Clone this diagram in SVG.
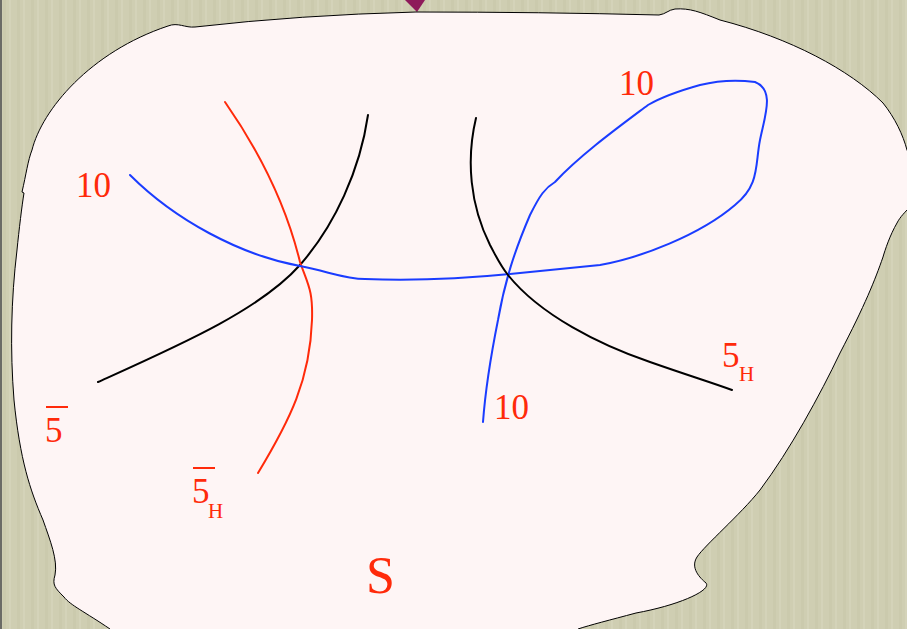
<svg xmlns="http://www.w3.org/2000/svg" width="907" height="629" viewBox="0 0 907 629">
<defs>
<pattern id="tex" width="14" height="629" patternUnits="userSpaceOnUse">
<rect width="14" height="629" fill="#cfceb2"/>
<rect x="3" width="3" height="629" fill="#cbcaad"/>
<rect x="9" width="2" height="629" fill="#d4d3b9"/>
</pattern>
<style>
.lbl{font-family:"Liberation Serif","Times New Roman",serif;fill:#ff2a0a}
.big{font-size:35px}
.sub{font-size:21px}
.crv{fill:none;stroke-width:2;stroke-linecap:round;stroke-linejoin:round}
.bar{stroke:#ff2a0a;stroke-width:2}
</style>
</defs>
<rect width="907" height="629" fill="url(#tex)"/>
<rect width="2" height="629" fill="#6b6b66"/>
<polygon points="405,0 425,0 417,12" fill="#8e1a5a"/>
<g id="surface">
<path d="M168,26 C178,22 185,28 195,27 Q300,15 416,12 Q540,12 659,15 C666,14 668,10 675,9 C690,8 700,12 720,20 C790,38 850,70 883,103 C895,118 903,135 907,150 L912,160 L912,205 C905,212 900,217 897,223 C890,235 885,250 883,257 C875,280 865,305 840,353 C820,395 790,450 760,490 C740,515 705,545 697,557 C690,568 700,578 706,583 C712,590 680,605 636,613 C610,620 590,625 578,629 L578,640 L110,640 L110,629 C85,612 70,605 64,597 C55,588 52,585 55,575 C58,560 50,540 43,520 C30,490 20,460 14,400 C10,350 11,300 17,250 C19,230 22,205 24,193 L22,192 C26,175 28,160 32,150 C42,110 90,52 168,26 Z" fill="#fef5f5" stroke="#000" stroke-width="1"/>
</g>
<g id="connectors">
<path class="crv" stroke="#000" d="M98,382 C180,345 260,310 300,265 C335,225 360,170 368,115"/>
<path class="crv" stroke="#ff2a0a" d="M225,102 C255,145 285,200 300,262 C308,285 313,290 312,320 C310,380 290,420 258,473"/>
<path class="crv" stroke="#1a3cff" d="M130,175 C175,220 240,255 300,266 C330,272 345,279 365,279 C420,281 470,278 510,274 C540,271 570,268 600,265 C640,258 700,235 735,205 C760,185 755,165 760,140 C765,115 775,90 755,82 C740,80 720,80 700,85 C675,92 660,98 648,105 C620,126 580,155 555,182 C545,188 540,195 530,215 C515,250 505,280 498,320 C490,360 485,395 483,422"/>
<path class="crv" stroke="#000" d="M476,118 C466,160 470,205 490,245 C497,258 500,265 508,275 C540,315 600,345 650,362 C690,376 710,382 732,390"/>
</g>
<g id="label-10a"><text class="lbl big" x="76" y="197">10</text></g>
<g id="label-10b"><text class="lbl big" x="619" y="95">10</text></g>
<g id="label-10c"><text class="lbl big" x="494" y="419">10</text></g>
<g id="label-5bar"><text class="lbl big" x="45" y="442">5</text><line class="bar" x1="46" y1="407" x2="68" y2="407"/></g>
<g id="label-5barH"><text class="lbl big" x="192" y="503">5</text><text class="lbl sub" x="208" y="518">H</text><line class="bar" x1="193" y1="468" x2="215" y2="468"/></g>
<g id="label-5H"><text class="lbl big" x="722" y="367">5</text><text class="lbl sub" x="739" y="381">H</text></g>
<g id="label-S"><text class="lbl" style="font-size:52px" x="366" y="593">S</text></g>
</svg>
